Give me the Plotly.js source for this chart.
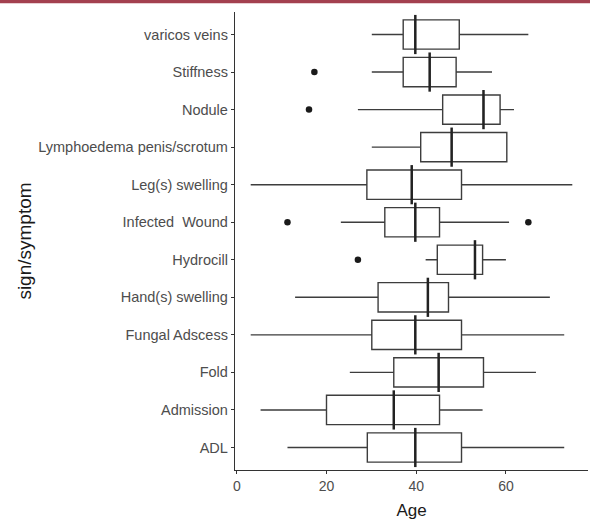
<!DOCTYPE html>
<html>
<head>
<meta charset="utf-8">
<script src="https://cdn.plot.ly/plotly-3.0.1.min.js"></script>
<style>html,body{margin:0;padding:0;background:#fff;}#chart{width:590px;height:523px;}</style>
</head>
<body>
<div id="chart"></div>
<script>
// Categories (bottom to top)
var categories = ["ADL", "Admission", "Fold", "Fungal Adscess", "Hand(s) swelling", "Hydrocill",
  "Infected\u00a0 Wound", "Leg(s) swelling", "Lymphoedema penis/scrotum", "Nodule", "Stiffness", "varicos veins"];
var lowerFence = [11.3, 5.3, 25.2, 3.1, 13.0, 42.1, 23.2, 3.1, 30.1, 27.0, 30.1, 30.1];
var q1Values   = [29.1, 20.0, 35.0, 30.1, 31.5, 44.7, 33.0, 29.0, 41.0, 45.9, 37.1, 37.1];
var medians    = [39.8, 35.0, 45.0, 39.8, 42.6, 53.1, 39.8, 39.0, 47.9, 55.0, 43.0, 39.8];
var q3Values   = [50.1, 45.2, 55.0, 50.1, 47.2, 54.8, 45.2, 50.1, 60.2, 58.7, 48.9, 49.6];
var upperFence = [73.0, 54.8, 66.7, 73.0, 69.8, 60.0, 60.7, 74.8, 60.2, 61.8, 56.9, 65.0];
// Outliers
var outlierAge = [27.0, 11.3, 65.0, 16.1, 17.3];
var outlierCat = [categories[5], categories[6], categories[6], categories[9], categories[10]];
var xTicks = [0, 20, 40, 60];

var boxTrace = {
  type: "box", orientation: "h",
  y: categories, q1: q1Values, median: medians, q3: q3Values,
  lowerfence: lowerFence, upperfence: upperFence,
  boxpoints: false,
  fillcolor: "#ffffff",
  line: {color: "#3d3d3d", width: 1.4},
  whiskerwidth: 0,
  hoverinfo: "skip", showlegend: false
};
var medianTrace = {
  type: "scatter", mode: "markers",
  x: medians, y: categories,
  marker: {symbol: "line-ns", size: 28, color: "#222", line: {color: "#222", width: 2.5}},
  hoverinfo: "skip", showlegend: false, cliponaxis: false
};
var outlierTrace = {
  type: "scatter", mode: "markers",
  x: outlierAge, y: outlierCat,
  marker: {symbol: "circle", size: 6.5, color: "#1a1a1a"},
  hoverinfo: "skip", showlegend: false, cliponaxis: false
};

var layout = {
  width: 590, height: 523,
  margin: {l: 235, r: 2, t: 12, b: 53},
  paper_bgcolor: "#ffffff", plot_bgcolor: "#ffffff",
  boxgap: 0.22, boxgroupgap: 0,
  showlegend: false,
  font: {family: "Liberation Sans, Arial, sans-serif", color: "#4d4d4d"},
  xaxis: {
    range: [-0.4, 78.3], tickvals: xTicks, ticktext: xTicks.map(String),
    showgrid: false, zeroline: false,
    showline: true, linecolor: "#333", linewidth: 1.2,
    ticks: "outside", ticklen: 3, tickcolor: "#333", tickwidth: 1.1,
    tickfont: {size: 14, color: "#4d4d4d"},
    title: {text: "Age", font: {size: 17, color: "#1a1a1a"}, standoff: 11}
  },
  yaxis: {
    type: "category", categoryorder: "array", categoryarray: categories,
    range: [-0.6, 11.6],
    showgrid: false, zeroline: false,
    showline: true, linecolor: "#333", linewidth: 1.2,
    ticks: "outside", ticklen: 3, tickcolor: "#333", tickwidth: 1.1,
    tickfont: {size: 14.5, color: "#4d4d4d"},
    title: {text: "sign/symptom", font: {size: 19, color: "#1a1a1a"}, standoff: 1}
  },
  shapes: [{
    type: "rect", xref: "paper", yref: "paper",
    x0: -1, x1: 2, y0: (470 - 3.3) / 458, y1: (470 + 5) / 458,
    fillcolor: "#a3404f", line: {width: 0}, layer: "above"
  }]
};

Plotly.newPlot("chart", [boxTrace, medianTrace, outlierTrace], layout, {displayModeBar: false, staticPlot: true});
</script>
</body>
</html>
